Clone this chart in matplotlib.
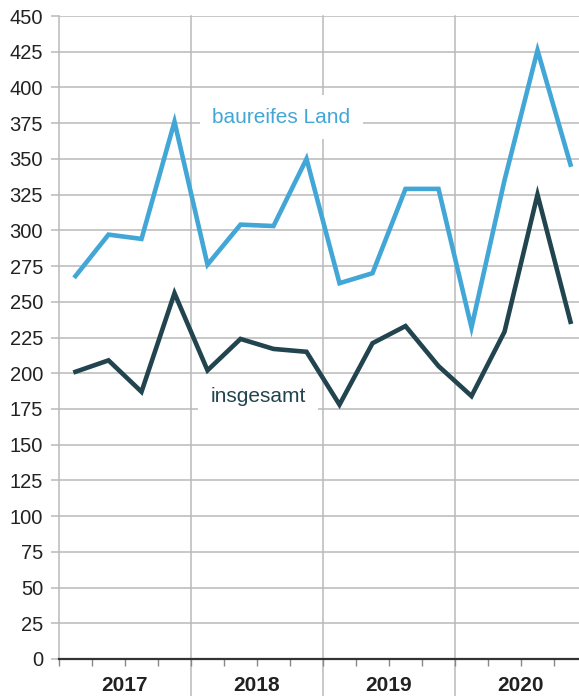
import matplotlib
matplotlib.use("Agg")
import matplotlib.pyplot as plt
import matplotlib.transforms as mtransforms

plt.rcParams['font.family'] = ['Liberation Sans', 'DejaVu Sans']

# quarterly values 2017 Q1 - 2020 Q4
years = ['2017', '2018', '2019', '2020']
baureifes = [268, 297, 294, 376, 276, 304, 303, 350, 263, 270, 329, 329, 232, 335, 426, 346]
insgesamt = [201, 209, 187, 256, 202, 224, 217, 215, 178, 221, 233, 205, 184, 229, 325, 236]
yticks = list(range(0, 451, 25))

blue = '#42a6d6'
dark = '#21444f'
grid = '#b9b9b9'

fig = plt.figure(figsize=(5.79, 6.96), dpi=100)
ax = fig.add_axes([59 / 579, 37 / 696, 528 / 579, 643 / 696])

x = list(range(len(baureifes)))
ax.plot(x, baureifes, color=blue, lw=3.3, solid_joinstyle='miter', zorder=4)
ax.plot(x, insgesamt, color=dark, lw=3.3, solid_joinstyle='miter', zorder=4)

ax.set_xlim(-0.5, 15.5)
ax.set_ylim(0, 450)
ax.set_yticks(yticks)
ax.set_yticklabels([str(v) for v in yticks], fontsize=14.5, color='#222222')
ax.yaxis.grid(True, color=grid, lw=1.1, zorder=0)
ax.tick_params(axis='y', length=5.5, width=1.1, color=grid, pad=6)

# quarter ticks under the axis
ax.set_xticks([k - 0.5 for k in range(17)])
ax.set_xticklabels([])
ax.tick_params(axis='x', length=5, width=1.0, color='#888888')

for s in ['top', 'right']:
    ax.spines[s].set_visible(False)
ax.spines['left'].set_color(grid)
ax.spines['left'].set_linewidth(1.1)
ax.spines['bottom'].set_color('#333333')
ax.spines['bottom'].set_linewidth(1.6)
ax.spines['bottom'].set_zorder(5)

# year separators run down through the label row
for i in range(1, len(years) + 1):
    ax.axvline(4 * i - 0.5, ymin=-0.06, ymax=1, color=grid, lw=1.1, clip_on=False, zorder=1)

trans = mtransforms.blended_transform_factory(ax.transData, ax.transAxes)
for i, yr in enumerate(years):
    ax.text(4 * i + 1.5, -17 / 643, yr, transform=trans, ha='center', va='top',
            fontsize=15, fontweight='bold', color='#222222')

ax.text(6.24, 379, 'baureifes Land', color=blue, fontsize=15, ha='center', va='center', zorder=3,
        bbox=dict(boxstyle='square,pad=0.6', facecolor='white', edgecolor='none'))
ax.text(5.53, 184, 'insgesamt', color=dark, fontsize=15, ha='center', va='center', zorder=3,
        bbox=dict(boxstyle='square,pad=0.6', facecolor='white', edgecolor='none'))

plt.savefig('out.png', dpi=100)
